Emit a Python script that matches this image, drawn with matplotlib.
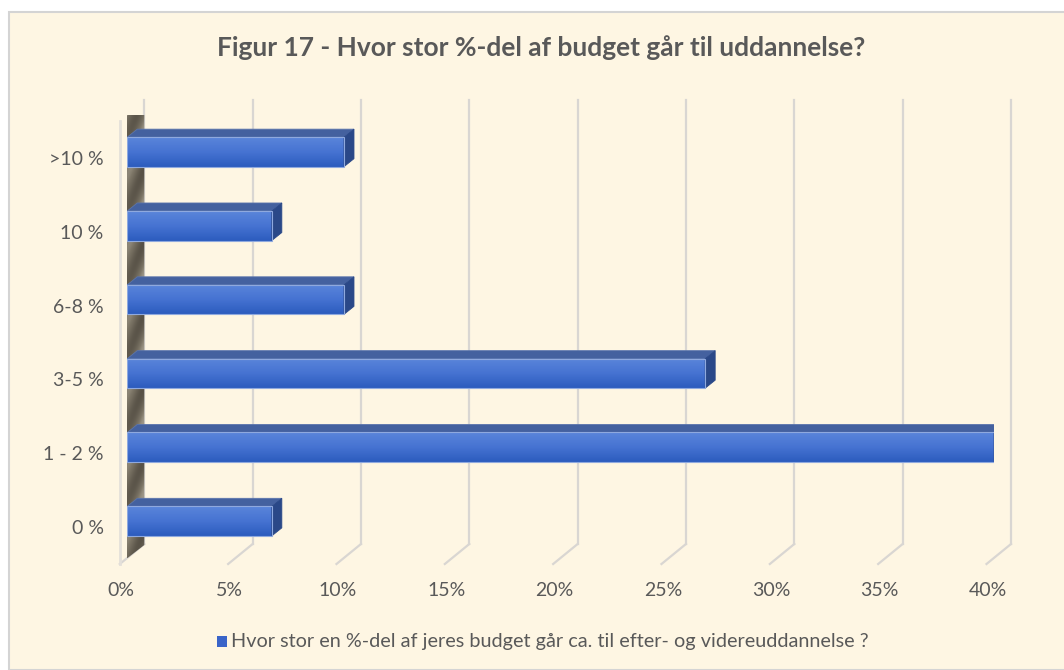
import matplotlib
matplotlib.use("Agg")
import matplotlib.pyplot as plt
import matplotlib.transforms as mtransforms
from matplotlib.patches import Polygon, Rectangle
from matplotlib.colors import LinearSegmentedColormap
import numpy as np

categories = ["0 %", "1 - 2 %", "3-5 %", "6-8 %", "10 %", ">10 %"]
values = [6.67, 40.0, 26.67, 10.0, 6.67, 10.0]
x_ticks = [0, 5, 10, 15, 20, 25, 30, 35, 40]
x_tick_labels = ["0%", "5%", "10%", "15%", "20%", "25%", "30%", "35%", "40%"]
title = "Figur 17 - Hvor stor %-del af budget går til uddannelse?"
legend_label = "Hvor stor en %-del af jeres budget går ca. til efter- og videreuddannelse ?"

BG = "#FEF6E3"
TEXT = "#595959"
GRID = "#D9D6D2"
W, H = 1064, 670

plt.rcParams["font.family"] = ["Lato", "DejaVu Sans"]

fig = plt.figure(figsize=(W / 100, H / 100), dpi=100)
fig.patch.set_facecolor("white")
# chart area with thin border (starts a few px in from the top-left)
fig.patches.append(Rectangle((9 / W, 0), 1, 1 - 12 / H, transform=fig.transFigure,
                             facecolor=BG, edgecolor="#D4D4D4", linewidth=1.5, zorder=-10))

# front plane of the bars, in pixels
x0_px, x40_px = 127.3, 994.0
ytop_px, ybot_px = 115.0, 558.0
ax = fig.add_axes([x0_px / W, 1 - ybot_px / H, (x40_px - x0_px) / W, (ybot_px - ytop_px) / H])
ax.set_xlim(0, 40)
ax.set_ylim(-0.5, 5.5)
ax.patch.set_alpha(0)
for s in ax.spines.values():
    s.set_visible(False)

px_x = (x40_px - x0_px) / 40.0        # pixels per percent
px_y = (ybot_px - ytop_px) / 6.0      # pixels per category


def dx(p):
    return p / px_x


def dy(p):
    return p / px_y


def img_y(py):
    return -0.5 + (ybot_px - py) / px_y


# back wall gridlines + floor diagonals
back_off = dx(17)
front_off = dx(-7.5)
for t in x_ticks:
    ax.plot([t + back_off, t + back_off], [img_y(544), img_y(100)], color=GRID,
            lw=1.6, clip_on=False, zorder=1)
    ax.plot([t + back_off, t + front_off], [img_y(544), img_y(564)], color=GRID,
            lw=1.6, clip_on=False, zorder=1)

# side wall (metallic look)
wall = [(front_off, img_y(564)), (front_off, img_y(121)), (back_off, img_y(102)),
        (back_off, img_y(545))]
wall_poly = Polygon(wall, closed=True, facecolor="none", edgecolor="none", zorder=2)
ax.add_patch(wall_poly)
wall_poly.set_clip_on(False)
wall_cmap = LinearSegmentedColormap.from_list("wall", ["#4F493F", "#7D7667", "#DCD5C6"])
yy, xx = np.mgrid[0:200, 0:20]
tex = 0.38 + 0.3 * np.sin(yy / 5.0 + xx / 3.5) * (0.5 + 0.5 * xx / 19.0)
wall_img = ax.imshow(tex, cmap=wall_cmap, vmin=0, vmax=1, aspect="auto", zorder=2,
                     extent=[front_off, back_off, img_y(564), img_y(102)],
                     interpolation="bilinear")
wall_img.set_clip_box(None)
wall_img.set_clip_path(wall_poly)
ax.plot([front_off, front_off], [img_y(564), img_y(121)], color="#E4E0DA", lw=2,
        clip_on=False, zorder=2.5)

# bars with pseudo-3D faces
h = 0.4
ddx, ddy = dx(10), dy(8)
grad = np.linspace(0, 1, 50).reshape(-1, 1)
bar_cmap = LinearSegmentedColormap.from_list("bar", ["#2C5CBE", "#4673D2", "#5A85DA"])
for i, v in enumerate(values):
    top, bot = i + h / 2, i - h / 2
    face = Rectangle((0, bot), v, h, facecolor="none", edgecolor="#8FA9DE", lw=0.8, zorder=4)
    ax.add_patch(face)
    ax.imshow(grad, cmap=bar_cmap, aspect="auto", extent=[0, v, bot, top],
              origin="lower", zorder=3, interpolation="bilinear")
    ax.add_patch(Polygon([(0, top), (v, top), (v + ddx, top + ddy), (ddx, top + ddy)],
                         closed=True, facecolor="#44619F", edgecolor="#5A74AC", lw=0.6, zorder=3))
    ax.add_patch(Polygon([(v, bot), (v, top), (v + ddx, top + ddy), (v + ddx, bot + ddy)],
                         closed=True, facecolor="#2A4888", edgecolor="#2A4888", lw=0.6, zorder=3))

ax.set_xlim(0, 40)
ax.set_ylim(-0.5, 5.5)

# axis labels
ax.set_yticks(range(len(categories)))
ax.set_yticklabels(categories, fontsize=14, color=TEXT)
ax.set_xticks(x_ticks)
ax.set_xticklabels(x_tick_labels, fontsize=14, color=TEXT)
ax.tick_params(length=0)
ax.tick_params(axis="y", pad=17)
ax.tick_params(axis="x", pad=17)
shift_y = mtransforms.ScaledTranslation(0, -0.06, fig.dpi_scale_trans)
for lab in ax.get_yticklabels():
    lab.set_transform(lab.get_transform() + shift_y)
shift_x = mtransforms.ScaledTranslation(-0.06, 0, fig.dpi_scale_trans)
for lab in ax.get_xticklabels():
    lab.set_transform(lab.get_transform() + shift_x)

fig.text(541 / W, 1 - 48 / H, title, ha="center", va="center", fontsize=19,
         fontweight="bold", color=TEXT)

# legend
fig.patches.append(Rectangle((217 / W, 1 - 647 / H), 10 / W, 11 / H, transform=fig.transFigure,
                             facecolor="#3A64C8", edgecolor="none"))
fig.text(231 / W, 1 - 641 / H, legend_label, ha="left", va="center", fontsize=14.3, color=TEXT)

fig.savefig("out.png", dpi=100, facecolor=fig.get_facecolor())
